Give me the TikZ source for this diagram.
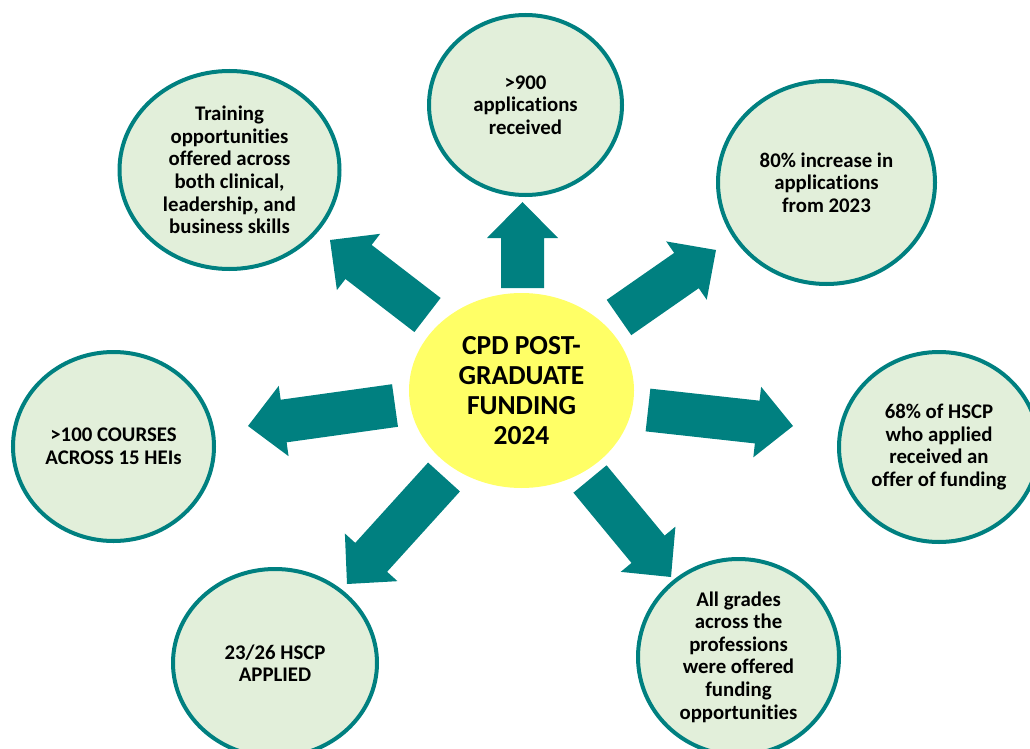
\documentclass[tikz,border=0pt]{standalone}
\usepackage{fontspec}
\setmainfont{Carlito}[Ligatures=NoCommon]
\usetikzlibrary{shapes.geometric,calc}
\definecolor{tealc}{RGB}{0,128,128}
\definecolor{pale}{RGB}{226,239,218}
\definecolor{yel}{RGB}{255,255,102}
\tikzset{
 bubble/.style={ellipse, draw=tealc, line width=4pt, fill=pale, inner sep=0pt, align=center, text=black,
   font=\fontsize{20.8}{22.6}\selectfont\bfseries},
 hub/.style={ellipse, fill=yel, inner sep=0pt, align=center, text=black,
   font=\fontsize{27.5}{30}\selectfont\bfseries},
 blockarrow/.style={fill=tealc}
}
\newcommand\blockarr[2]{%
 \coordinate (hb) at ($(#2)!36pt!(#1)$);
 \fill[blockarrow] ($(#1)!21.5pt!90:(#2)$) -- ($(hb)!21.5pt!-90:(#1)$) -- ($(hb)!35.5pt!-90:(#1)$) -- (#2)
   -- ($(hb)!35.5pt!90:(#1)$) -- ($(hb)!21.5pt!90:(#1)$) -- ($(#1)!21.5pt!-90:(#2)$) -- cycle;}
\begin{document}
\begin{tikzpicture}[x=1pt,y=-1pt]
\useasboundingbox (0,0) rectangle (1030,749);
\clip (0,0) rectangle (1030,749);
% hub
\node[hub, minimum width=225pt, minimum height=195pt] (hubn) at (521.5,390.5) {CPD POST-\\GRADUATE\\FUNDING\\2024};
% bubbles
\node[bubble, minimum width=220pt, minimum height=198pt] (tl) at (229.5,170) {Training\\opportunities\\offered across\\both clinical,\\leadership, and\\business skills};
\node[bubble, minimum width=193pt, minimum height=180pt] (tp) at (525.5,105) {>900\\applications\\received};
\node[bubble, minimum width=217pt, minimum height=203pt] (tr) at (826.5,182.5) {80\% increase in\\applications\\from 2023};
\node[bubble, minimum width=201pt, minimum height=189pt] (lf) at (113.5,446.5) {>100 COURSES\\ACROSS 15 HEIs};
\node[bubble, minimum width=200pt, minimum height=190pt] (rt) at (939,447) {68\% of HSCP\\who applied\\received an\\offer of funding};
\node[bubble, minimum width=204pt, minimum height=188pt] (bl) at (275,663) {23/26 HSCP\\APPLIED};
\node[bubble, minimum width=201pt, minimum height=196pt] (br) at (738.5,657) {All grades\\across the\\professions\\were offered\\funding\\opportunities};
% arrow ends
\coordinate (nwA) at (427.5,315); \coordinate (nwB) at (330,240);
\coordinate (nA) at (522.5,288);  \coordinate (nB) at (522.5,202);
\coordinate (neA) at (619,317.5); \coordinate (neB) at (716,250);
\coordinate (wA) at (395,405.5);  \coordinate (wB) at (248,426);
\coordinate (swA) at (444,477);   \coordinate (swB) at (347,584);
\coordinate (eA) at (648,410);    \coordinate (eB) at (793,426);
\coordinate (seA) at (590,479);   \coordinate (seB) at (671,577);
\blockarr{nwA}{nwB}
\blockarr{nA}{nB}
\blockarr{neA}{neB}
\blockarr{wA}{wB}
\blockarr{swA}{swB}
\blockarr{eA}{eB}
\blockarr{seA}{seB}
\end{tikzpicture}
\end{document}
